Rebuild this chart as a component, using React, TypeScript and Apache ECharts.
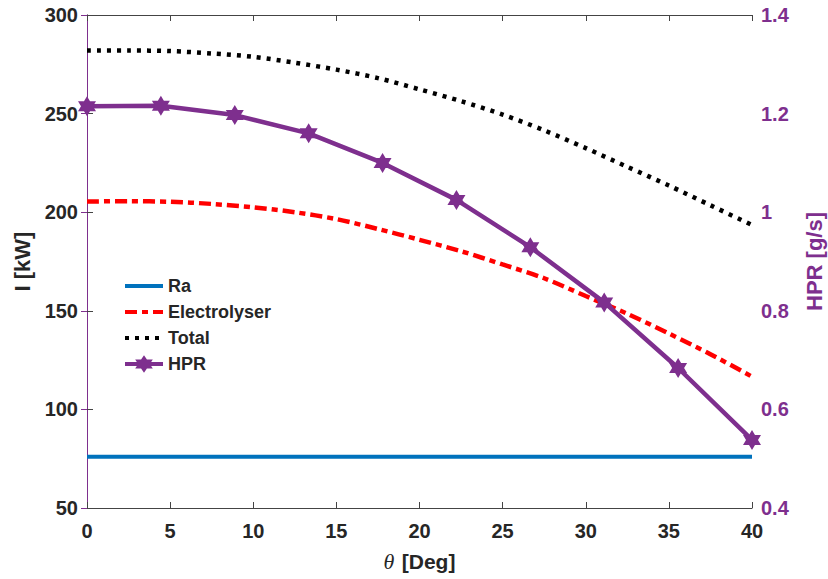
import React, { useEffect, useRef } from "react";
import * as echarts from "echarts";

const thetaGrid = [0, 2.5, 5, 7.5, 10, 12.5, 15, 17.5, 20, 22.5, 25, 27.5, 30, 32.5, 35, 37.5, 40];
const electrolyser = [205.4, 205.6, 205.3, 204.2, 202.5, 200, 196.5, 191.5, 186, 180.2, 173.5, 166.5, 157.5, 148.5, 138.5, 128, 116.6];
const total = [282, 282, 281.7, 280.5, 278.8, 275.8, 272.3, 268, 262.3, 256.3, 249.5, 241.5, 232.5, 223, 213.5, 203.5, 193.5];
const raTheta = [0, 40];
const ra = [76, 76];
const hprTheta = [0, 4.444, 8.889, 13.333, 17.778, 22.222, 26.667, 31.111, 35.556, 40];
const hpr = [1.215, 1.216, 1.197, 1.16, 1.1, 1.025, 0.929, 0.817, 0.684, 0.538];

const leftTicks = [50, 100, 150, 200, 250, 300];
const rightTicks = [0.4, 0.6, 0.8, 1, 1.2, 1.4];

const PURPLE = "#7E2F8E";
const DARK = "#262626";
const AXISGRAY = "#444444";
const FONT = "Liberation Sans, Arial, sans-serif";
const HEX =
  "path://M0,-1L0.2887,-0.5L0.866,-0.5L0.577,0L0.866,0.5L0.2887,0.5L0,1L-0.2887,0.5L-0.866,0.5L-0.577,0L-0.866,-0.5L-0.2887,-0.5Z";

const pairs = (xs: number[], ys: number[]) => xs.map((x, i) => [x, ys[i]]);

export default function App() {
  const ref = useRef<HTMLDivElement>(null);
  useEffect(() => {
    document.body.style.margin = "0";
    const chart = echarts.init(ref.current!, undefined, { renderer: "svg" });
    const hidden = { opacity: 0 };
    chart.setOption({
      animation: false,
      backgroundColor: "#ffffff",
      grid: { left: 87, right: 76, top: 15, bottom: 71, containLabel: false, outerBoundsMode: "none" },
      legend: {
        orient: "vertical",
        left: 118,
        top: 272,
        itemWidth: 38,
        itemHeight: 22,
        itemGap: 8,
        lineStyle: { width: 4 },
        textStyle: { fontFamily: FONT, fontWeight: "bold", fontSize: 18, color: DARK },
        data: [
          { name: "Ra", itemStyle: hidden },
          { name: "Electrolyser", itemStyle: hidden },
          { name: "Total", itemStyle: hidden },
          { name: "HPR" },
        ],
      },
      xAxis: [
        {
          type: "value",
          min: 0,
          max: 40,
          interval: 5,
          position: "bottom",
          axisLine: { show: true, lineStyle: { color: AXISGRAY, width: 1 } },
          axisTick: { show: true, inside: true, length: 6, lineStyle: { color: AXISGRAY } },
          splitLine: { show: false },
          axisLabel: { fontFamily: FONT, fontWeight: "bold", fontSize: 20, color: DARK, margin: 13 },
          name: "{i|θ} {b|[Deg]}",
          nameLocation: "middle",
          nameGap: 42,
          nameTextStyle: {
            rich: {
              i: { fontFamily: "Liberation Serif, serif", fontStyle: "italic", fontSize: 22, color: DARK, padding: [0, 4, 0, 0] },
              b: { fontFamily: FONT, fontWeight: "bold", fontSize: 21, color: DARK },
            },
          },
        },
        {
          type: "value",
          min: 0,
          max: 40,
          interval: 5,
          position: "top",
          axisLine: { show: true, lineStyle: { color: AXISGRAY, width: 1 } },
          axisTick: { show: true, inside: true, length: 6, lineStyle: { color: AXISGRAY } },
          axisLabel: { show: false },
          splitLine: { show: false },
        },
      ],
      yAxis: [
        {
          type: "value",
          min: 50,
          max: 300,
          interval: 50,
          position: "left",
          axisLine: { show: true, lineStyle: { color: AXISGRAY, width: 1 } },
          axisTick: { show: true, inside: true, length: 6, lineStyle: { color: AXISGRAY } },
          splitLine: { show: false },
          axisLabel: {
            fontFamily: FONT,
            fontWeight: "bold",
            fontSize: 20,
            color: DARK,
            margin: 9,
            formatter: (v: number) => (leftTicks.includes(v) ? String(v) : ""),
          },
          name: "I [kW]",
          nameLocation: "middle",
          nameGap: 45,
          nameTextStyle: { fontFamily: FONT, fontWeight: "bold", fontSize: 22, color: DARK },
        },
        {
          type: "value",
          min: 0.4,
          max: 1.4,
          interval: 0.2,
          position: "right",
          axisLine: { show: true, lineStyle: { color: PURPLE, width: 1 } },
          axisTick: { show: true, inside: true, length: 6, lineStyle: { color: PURPLE } },
          splitLine: { show: false },
          axisLabel: {
            fontFamily: FONT,
            fontWeight: "bold",
            fontSize: 20,
            color: PURPLE,
            margin: 9,
            formatter: (v: number) => {
              const t = rightTicks.find((r) => Math.abs(r - v) < 1e-6);
              return t === undefined ? "" : String(t);
            },
          },
          name: "HPR [g/s]",
          nameLocation: "middle",
          nameGap: 51,
          nameTextStyle: { fontFamily: FONT, fontWeight: "bold", fontSize: 22, color: PURPLE },
        },
      ],
      series: [
        {
          name: "Ra",
          type: "line",
          xAxisIndex: 0,
          yAxisIndex: 0,
          data: pairs(raTheta, ra),
          symbol: "none",
          lineStyle: { color: "#0072BD", width: 4 },
          itemStyle: { color: "#0072BD" },
        },
        {
          name: "Electrolyser",
          type: "line",
          xAxisIndex: 0,
          yAxisIndex: 0,
          data: pairs(thetaGrid, electrolyser),
          symbol: "none",
          smooth: 0.3,
          lineStyle: { color: "#FF0000", width: 4.5, type: [12, 5, 6, 5] },
          itemStyle: { color: "#FF0000" },
        },
        {
          name: "Total",
          type: "line",
          xAxisIndex: 0,
          yAxisIndex: 0,
          data: pairs(thetaGrid, total),
          symbol: "none",
          smooth: 0.3,
          lineStyle: { color: "#000000", width: 4.5, type: [4, 6] },
          itemStyle: { color: "#000000" },
        },
        {
          name: "HPR",
          type: "line",
          xAxisIndex: 0,
          yAxisIndex: 1,
          data: pairs(hprTheta, hpr),
          symbol: HEX,
          symbolSize: [18, 20],
          lineStyle: { color: PURPLE, width: 4.5 },
          itemStyle: { color: PURPLE },
          z: 5,
        },
      ],
    });
    return () => chart.dispose();
  }, []);
  return <div ref={ref} style={{ width: 828, height: 579 }} />;
}
